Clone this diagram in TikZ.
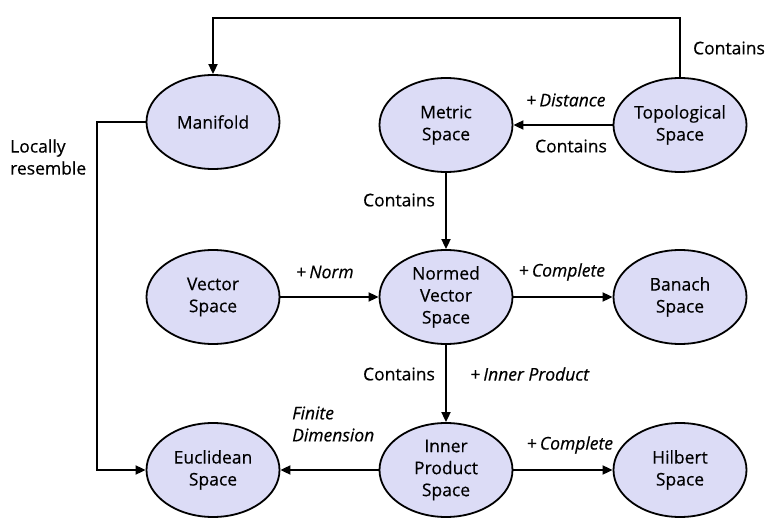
\documentclass[tikz,border=0pt]{standalone}
\usepackage{fontspec}
\setmainfont{Open Sans}[FakeBold=0.4]
\usetikzlibrary{arrows.meta,shapes.geometric}
\definecolor{ellfill}{RGB}{220,220,246}
\tikzset{
  sp/.style={ellipse,draw=black,line width=1.8pt,fill=ellfill,minimum width=133pt,minimum height=94pt,inner sep=0pt,align=center,font=\fontsize{17.5}{22}\selectfont},
  conn/.style={line width=1.8pt,-{Triangle[length=10pt,width=9pt]}},
  lab/.style={font=\fontsize{17.5}{22}\selectfont,inner sep=0pt},
  ilab/.style={font=\fontsize{17.5}{22}\selectfont\itshape,inner sep=0pt}
}
\begin{document}
\begin{tikzpicture}[x=1pt,y=-1pt]
\useasboundingbox (0,0) rectangle (779,521);
\node[sp] (man) at (213,122) {Manifold};
\node[sp] (met) at (446,125) {Metric\\Space};
\node[sp] (top) at (680,125) {Topological\\Space};
\node[sp] (vec) at (213,297) {Vector\\Space};
\node[sp] (nor) at (446,297) {Normed\\Vector\\Space};
\node[sp] (ban) at (680,297) {Banach\\Space};
\node[sp] (euc) at (213,470) {Euclidean\\Space};
\node[sp] (inn) at (446,470) {Inner\\Product\\Space};
\node[sp] (hil) at (680,470) {Hilbert\\Space};
\coordinate (c1) at (680,18);
\coordinate (c2) at (213,18);
\coordinate (c3) at (97,122);
\coordinate (c4) at (97,470);
\draw[conn] (top.north) -- (c1) -- (c2) -- (man.north);
\draw[conn] (top.west) -- (met.east);
\draw[conn] (met.south) -- (nor.north);
\draw[conn] (vec.east) -- (nor.west);
\draw[conn] (nor.east) -- (ban.west);
\draw[conn] (nor.south) -- (inn.north);
\draw[conn] (inn.west) -- (euc.east);
\draw[conn] (inn.east) -- (hil.west);
\draw[conn] (man.west) -- (c3) -- (c4) -- (euc.west);
\node[lab] (l1) at (729,48) {Contains};
\node[lab] (l2) at (566,100) {+\,\textit{Distance}};
\node[lab] (l3) at (571,146) {Contains};
\node[lab] (l4) at (399,200) {Contains};
\node[lab] (l5) at (325,272) {+\,\textit{Norm}};
\node[lab] (l6) at (562,272) {+\,\textit{Complete}};
\node[lab] (l7) at (399,374) {Contains};
\node[lab] (l8) at (530,374) {+\,\textit{Inner Product}};
\node[ilab,align=left,anchor=west] (l9) at (292,424) {Finite\\Dimension};
\node[lab] (l10) at (570,445) {+\,\textit{Complete}};
\node[lab,align=left,anchor=west] (l11) at (10,157) {Locally\\resemble};
\end{tikzpicture}
\end{document}
